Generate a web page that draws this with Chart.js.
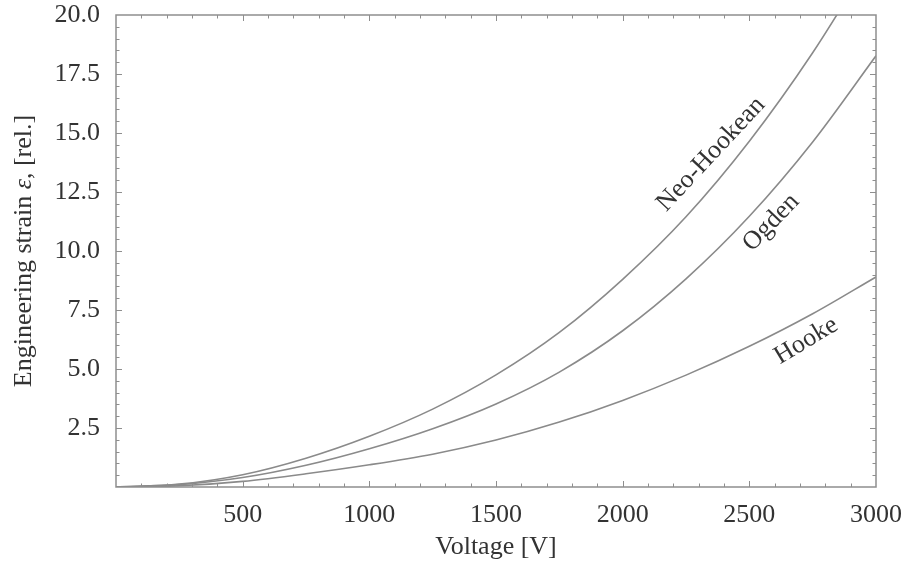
<!DOCTYPE html>
<html>
<head>
<meta charset="utf-8">
<script src="https://cdn.jsdelivr.net/npm/chart.js@4.4.1/dist/chart.umd.min.js"></script>
<style>
  html, body { margin: 0; padding: 0; background: #fff; }
  #wrap { width: 907px; height: 566px; }
</style>
</head>
<body>
<div id="wrap"><canvas id="strain"></canvas></div>
<script>
// strain vs. applied voltage for three material models
const voltage = [0, 250, 500, 750, 1000, 1250, 1500, 1750, 2000, 2250, 2500, 2750, 3000];
const neoHookean = [0, 0.12, 0.52, 1.22, 2.15, 3.3, 4.75, 6.55, 8.8, 11.45, 14.65, 18.4, 22.7];
const ogden = [0, 0.1, 0.4, 0.92, 1.62, 2.47, 3.52, 4.87, 6.62, 8.82, 11.47, 14.62, 18.27];
const hooke = [0, 0.05, 0.24, 0.56, 0.94, 1.39, 1.99, 2.75, 3.67, 4.74, 5.96, 7.34, 8.9];
const modelNames = ['Neo-Hookean', 'Ogden', 'Hooke'];

const xTicks = [500, 1000, 1500, 2000, 2500, 3000];
const yTicks = [2.5, 5.0, 7.5, 10.0, 12.5, 15.0, 17.5, 20.0];

// where each curve name sits (data coords) and its tilt in degrees
const namePlacement = [
  { v: 2349, e: 14.1, angle: -47 },
  { v: 2586, e: 11.2, angle: -46 },
  { v: 2724, e: 6.2, angle: -31 }
];

const FRAME = '#8e8e8e';
const TEXT = '#333';
const SERIF = '"Liberation Serif", "DejaVu Serif", serif';

function toXY(ys) {
  return voltage.map((v, i) => ({ x: v, y: ys[i] }));
}

// frame plus inward tick marks on all four sides
const framePlugin = {
  id: 'frame',
  afterDraw(chart) {
    const { ctx, chartArea: a, scales: { x, y } } = chart;
    ctx.save();
    ctx.strokeStyle = FRAME;
    ctx.lineWidth = 1.5;
    ctx.strokeRect(a.left, a.top, a.right - a.left, a.bottom - a.top);
    ctx.lineWidth = 1;
    ctx.beginPath();
    for (let v = 100; v < 3000; v += 100) {
      const px = Math.round(x.getPixelForValue(v)) + 0.5;
      const len = v % 500 === 0 ? 6 : 3.5;
      ctx.moveTo(px, a.bottom); ctx.lineTo(px, a.bottom - len);
      ctx.moveTo(px, a.top); ctx.lineTo(px, a.top + len);
    }
    for (let k = 1; k < 40; k++) {
      const e = k * 0.5;
      const py = Math.round(y.getPixelForValue(e)) + 0.5;
      const len = k % 5 === 0 ? 6 : 3.5;
      ctx.moveTo(a.left, py); ctx.lineTo(a.left + len, py);
      ctx.moveTo(a.right, py); ctx.lineTo(a.right - len, py);
    }
    ctx.stroke();
    ctx.restore();
  }
};

// curve names written along the lines
const namesPlugin = {
  id: 'names',
  afterDatasetsDraw(chart) {
    const { ctx, scales: { x, y } } = chart;
    ctx.save();
    ctx.fillStyle = TEXT;
    ctx.font = '26px ' + SERIF;
    ctx.textAlign = 'center';
    ctx.textBaseline = 'middle';
    modelNames.forEach((name, i) => {
      const p = namePlacement[i];
      ctx.save();
      ctx.translate(x.getPixelForValue(p.v), y.getPixelForValue(p.e));
      ctx.rotate(p.angle * Math.PI / 180);
      ctx.fillText(name, 0, 0);
      ctx.restore();
    });
    ctx.restore();
  }
};

// y axis title with an italic epsilon
const yTitlePlugin = {
  id: 'yTitle',
  afterDraw(chart) {
    const { ctx, chartArea: a } = chart;
    const parts = [
      ['Engineering strain ', '26px ' + SERIF],
      ['\u03b5', 'italic 26px ' + SERIF],
      [', [rel.]', '26px ' + SERIF]
    ];
    ctx.save();
    ctx.fillStyle = TEXT;
    ctx.textBaseline = 'alphabetic';
    ctx.textAlign = 'left';
    let total = 0;
    parts.forEach(([t, f]) => { ctx.font = f; total += ctx.measureText(t).width; });
    ctx.translate(31, (a.top + a.bottom) / 2);
    ctx.rotate(-Math.PI / 2);
    let cx = -total / 2;
    parts.forEach(([t, f]) => {
      ctx.font = f;
      ctx.fillText(t, cx, 0);
      cx += ctx.measureText(t).width;
    });
    ctx.restore();
  }
};

const lineStyle = {
  borderColor: '#8a8a8a',
  borderWidth: 1.6,
  pointRadius: 0,
  fill: false,
  cubicInterpolationMode: 'monotone'
};

new Chart(document.getElementById('strain'), {
  type: 'line',
  data: {
    datasets: [
      { label: modelNames[0], data: toXY(neoHookean), ...lineStyle },
      { label: modelNames[1], data: toXY(ogden), ...lineStyle },
      { label: modelNames[2], data: toXY(hooke), ...lineStyle }
    ]
  },
  plugins: [framePlugin, namesPlugin, yTitlePlugin],
  options: {
    responsive: true,
    maintainAspectRatio: false,
    devicePixelRatio: 1,
    animation: false,
    layout: { padding: { top: 15, right: 31, left: 0, bottom: 0 } },
    plugins: { legend: { display: false }, tooltip: { enabled: false } },
    scales: {
      x: {
        type: 'linear',
        min: 0,
        max: 3000,
        afterBuildTicks: (s) => { s.ticks = xTicks.map(v => ({ value: v })); },
        afterFit: (s) => { s.height = 79; s.paddingLeft = 0; s.paddingRight = 0; },
        grid: { display: false, drawTicks: false },
        border: { display: false },
        ticks: {
          padding: 13,
          maxRotation: 0,
          color: TEXT,
          font: { family: SERIF, size: 26 },
          callback: (v) => String(v)
        },
        title: {
          display: true,
          text: 'Voltage [V]',
          color: TEXT,
          font: { family: SERIF, size: 26 },
          padding: { top: 0, bottom: 3 }
        }
      },
      y: {
        type: 'linear',
        min: 0,
        max: 20,
        afterBuildTicks: (s) => { s.ticks = yTicks.map(v => ({ value: v })); },
        afterFit: (s) => { s.width = 116; s.paddingTop = 0; s.paddingBottom = 0; },
        grid: { display: false, drawTicks: false },
        border: { display: false },
        ticks: {
          padding: 16,
          color: TEXT,
          font: { family: SERIF, size: 26 },
          callback: (v) => Number(v).toFixed(1)
        }
      }
    }
  }
});
</script>
</body>
</html>
